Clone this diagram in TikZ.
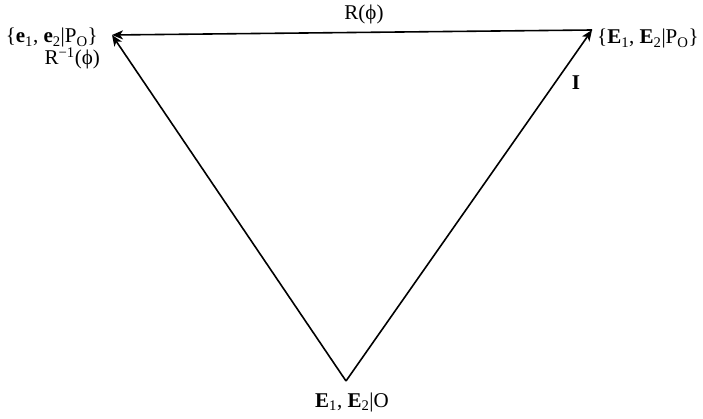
\documentclass[tikz,border=0pt]{standalone}
\usepackage{fontspec}
\setmainfont{Liberation Serif}
\usetikzlibrary{arrows.meta,positioning,calc}

\begin{document}
\begin{tikzpicture}[
  x=1pt, y=-1pt,
  font=\fontsize{21}{25}\selectfont,
  vec/.style={-{Stealth[length=11pt,width=9pt,inset=3pt]}, line width=1.6pt},
  lbl/.style={inner sep=0pt},
]
\useasboundingbox (0,0) rectangle (703,419);

% ---------- the three frames
\coordinate (o)  at (346,381);
\coordinate (pl) at (112,35);
\coordinate (pr) at (592,30);

\node[lbl, anchor=base] (lo) at (352,407)
  {\textbf{E}\textsubscript{1}, \textbf{E}\textsubscript{2}|O};
\node[lbl, anchor=base east] (ll) at (98,43)
  {\{\textbf{e}\textsubscript{1}, \textbf{e}\textsubscript{2}|P\textsubscript{O}\}};
\node[lbl, anchor=base west] (lr) at (597,44)
  {\{\textbf{E}\textsubscript{1}, \textbf{E}\textsubscript{2}|P\textsubscript{O}\}};

% ---------- the transforms
\draw[vec] (o) -- (pl);
\draw[vec] (o) -- (pr);
\draw[vec] (pr) -- (pl);

\node[lbl, anchor=base] (rot) at (364,20) {R(ϕ)};
\node[lbl, anchor=base east] (rinv) at (100,65) {R\textsuperscript{−1}(ϕ)};
\node[lbl, anchor=base] (id) at (576,90) {\textbf{I}};
\end{tikzpicture}
\end{document}
